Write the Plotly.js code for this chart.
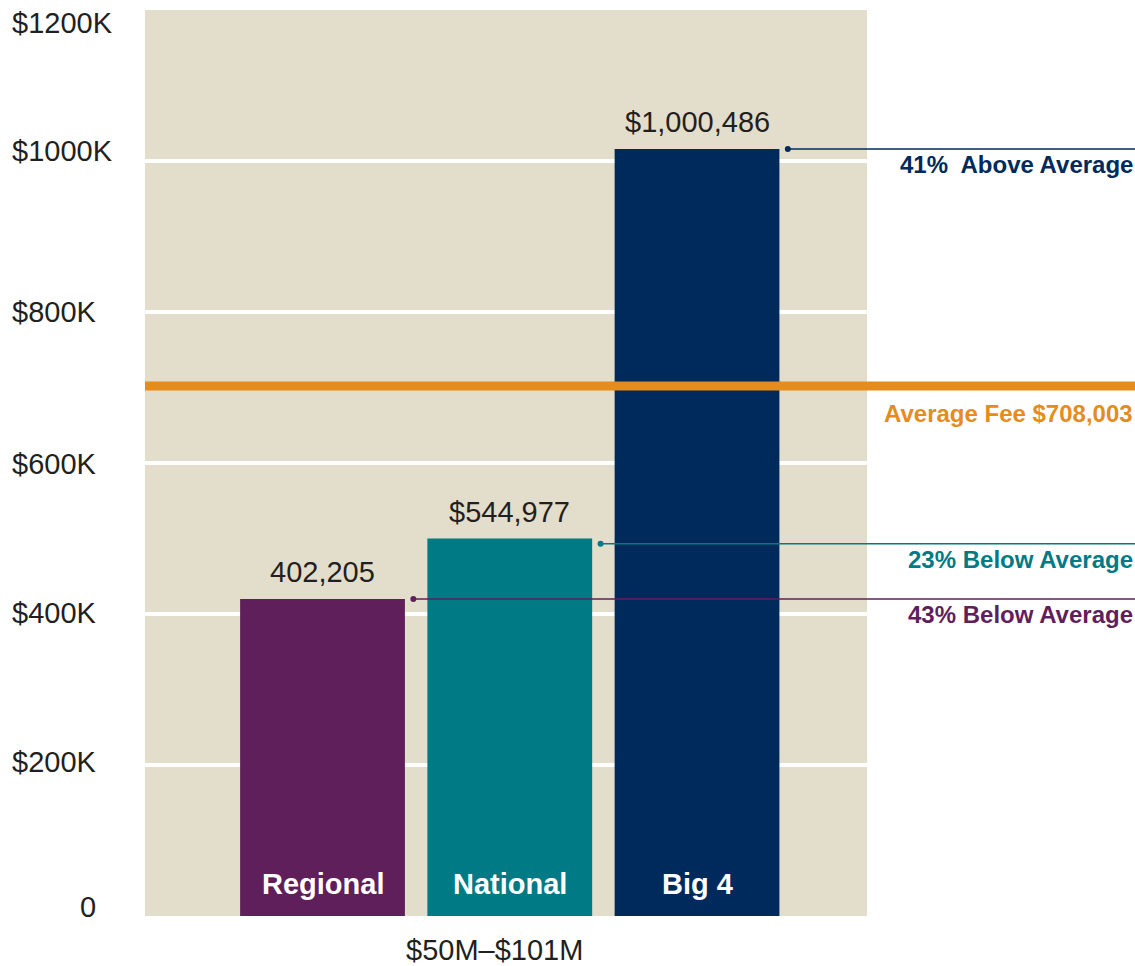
<!DOCTYPE html>
<html>
<head>
<meta charset="utf-8">
<script src="https://cdn.plot.ly/plotly-3.0.1.min.js"></script>
<style>html,body{margin:0;padding:0;background:#fff;}#chart{width:1135px;height:966px;}</style>
</head>
<body>
<div id="chart"></div>
<script>
// ---- data ----
const categories = ['Regional', 'National', 'Big 4'];
const barValues = [420000, 500000, 1016000];           // drawn bar heights
const valueLabels = ['402,205', '$544,977', '$1,000,486'];
const barColors = ['#5F1F5A', '#007B85', '#002A5C'];
const avgValue = 702000;
const avgLabel = 'Average Fee $708,003';
const compareLabels = ['43% Below Average', '23% Below Average', '41%\u00a0 Above Average'];
const connectorValues = [420000, 493000, 1016000];
const tickVals = [0, 200000, 400000, 600000, 800000, 1000000, 1200000];
const tickText = ['0', '$200K', '$400K', '$600K', '$800K', '$1000K', '$1200K'];
const gridVals = [200000, 400000, 600000, 800000, 1000000];
const groupLabel = '$50M\u2013$101M';

// ---- layout helpers ----
const FONT = 'Liberation Sans, Arial, sans-serif';
const TXT = '#231F20';
const xLeft = -0.948, xRight = 4.339, beigeRight = 2.908;
const avgColor = '#E48C1E';
const xIdx = categories.map((c, i) => i);
const tickLabelShift = [-9, -3, -1, 1, 0, -10, 13];   // vertical pixel nudges of the y labels

const shapes = [];
shapes.push({type: 'rect', xref: 'x', yref: 'y', x0: xLeft, x1: beigeRight, y0: 0, y1: 1200000,
  fillcolor: '#E3DECB', line: {width: 0}, layer: 'below'});
gridVals.forEach(v => shapes.push({type: 'line', xref: 'x', yref: 'y', x0: xLeft, x1: beigeRight, y0: v, y1: v,
  line: {color: '#FFFFFF', width: 4}, layer: 'below'}));
shapes.push({type: 'line', xref: 'x', yref: 'y', x0: xLeft, x1: xRight, y0: avgValue, y1: avgValue,
  line: {color: avgColor, width: 9}, layer: 'above'});
xIdx.forEach(i => {
  const xs = i + 0.485;
  shapes.push({type: 'line', xref: 'x', yref: 'y', x0: xs, x1: xRight, y0: connectorValues[i], y1: connectorValues[i],
    line: {color: barColors[i], width: 1.5}, layer: 'above'});
  shapes.push({type: 'circle', xref: 'x', yref: 'y', xsizemode: 'pixel', ysizemode: 'pixel',
    xanchor: xs, yanchor: connectorValues[i], x0: -3, x1: 3, y0: -3, y1: 3,
    fillcolor: barColors[i], line: {width: 0}, layer: 'above'});
});

const annotations = [];
tickVals.forEach((v, k) => {
  const isZero = v === 0;
  annotations.push({x: 0, y: v, xref: 'paper', yref: 'y', text: tickText[k], showarrow: false,
    xanchor: isZero ? 'right' : 'left', xshift: isZero ? -47 : -135, yanchor: 'middle', yshift: -tickLabelShift[k],
    font: {family: FONT, size: 29, color: TXT}});
});
xIdx.forEach(i => {
  annotations.push({x: i, y: barValues[i], xref: 'x', yref: 'y', text: valueLabels[i], showarrow: false,
    yanchor: 'middle', yshift: 27, font: {family: FONT, size: 29, color: TXT}});
  annotations.push({x: i, y: 0, xref: 'x', yref: 'y', text: '<b>' + categories[i] + '</b>', showarrow: false,
    yanchor: 'middle', yshift: 32, font: {family: FONT, size: 29, color: '#FFFFFF'}});
  annotations.push({x: 1, y: connectorValues[i], xref: 'paper', yref: 'y', xanchor: 'right', yanchor: 'middle',
    yshift: -16, text: '<b>' + compareLabels[i] + '</b>', showarrow: false,
    font: {family: FONT, size: 24, color: barColors[i]}});
});
annotations.push({x: 1, y: avgValue, xref: 'paper', yref: 'y', xanchor: 'right', yanchor: 'middle', yshift: -28,
  text: '<b>' + avgLabel + '</b>', showarrow: false, font: {family: FONT, size: 24, color: avgColor}});
annotations.push({x: 0.916, y: 0, xref: 'x', yref: 'paper', yanchor: 'middle', yshift: -34,
  text: groupLabel, showarrow: false, font: {family: FONT, size: 29, color: TXT}});

const data = [{
  type: 'bar', x: xIdx, y: barValues, width: 0.88,
  marker: {color: barColors, line: {width: 0}}, hoverinfo: 'skip'
}];

const layout = {
  width: 1135, height: 966,
  margin: {l: 145, r: 0, t: 10, b: 50, pad: 0},
  paper_bgcolor: '#FFFFFF', plot_bgcolor: '#FFFFFF',
  showlegend: false,
  xaxis: {range: [xLeft, xRight], showgrid: false, zeroline: false, showticklabels: false, showline: false, ticks: '', fixedrange: true},
  yaxis: {range: [0, 1200000], showgrid: false, zeroline: false, showline: false, showticklabels: false,
    ticks: '', fixedrange: true},
  shapes: shapes,
  annotations: annotations,
  font: {family: FONT}
};

Plotly.newPlot('chart', data, layout, {displayModeBar: false, staticPlot: true});
</script>
</body>
</html>
